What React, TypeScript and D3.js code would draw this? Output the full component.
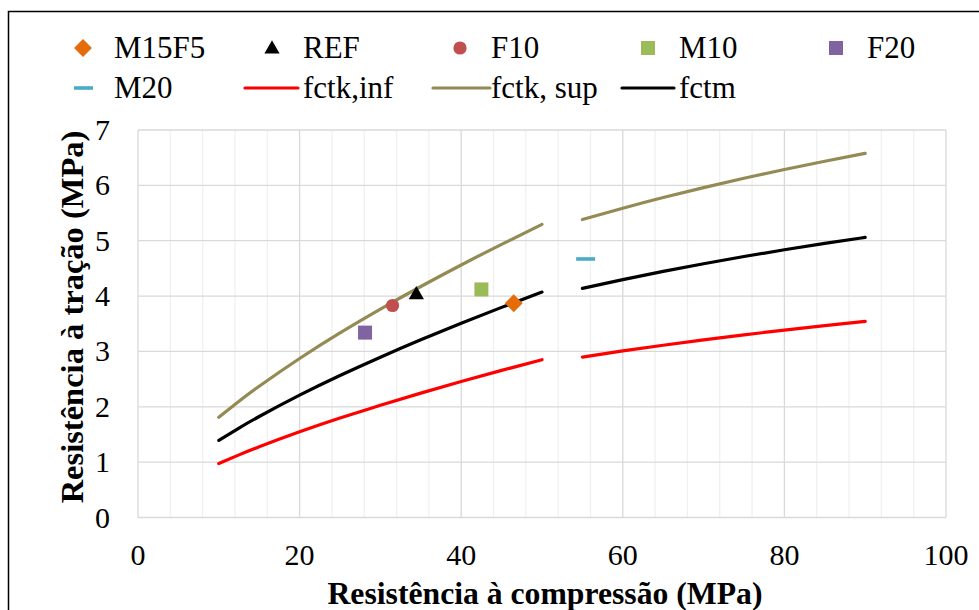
import React from "react";
import * as d3 from "d3";

const xTicks = [0, 20, 40, 60, 80, 100];
const yTicks = [0, 1, 2, 3, 4, 5, 6, 7];

const xLow = [10, 12.5, 15, 20, 25, 30, 35, 40, 45, 50];
const fctmLow = [1.392, 1.616, 1.825, 2.21, 2.565, 2.896, 3.21, 3.509, 3.796, 4.072];
const infLow = [0.974, 1.131, 1.277, 1.547, 1.796, 2.027, 2.247, 2.456, 2.657, 2.85];
const supLow = [1.81, 2.1, 2.372, 2.873, 3.335, 3.765, 4.173, 4.562, 4.935, 5.294];

const xHigh = [55, 60, 65, 70, 75, 80, 85, 90];
const fctmHigh = [4.14, 4.298, 4.446, 4.584, 4.714, 4.836, 4.951, 5.06];
const infHigh = [2.898, 3.009, 3.112, 3.209, 3.3, 3.385, 3.466, 3.542];
const supHigh = [5.382, 5.587, 5.78, 5.959, 6.128, 6.287, 6.436, 6.578];

const pointNames = ["M15F5", "REF", "F10", "M10", "F20", "M20"];
const pointX = [46.5, 34.45, 31.5, 42.5, 28.1, 55.4];
const pointY = [3.87, 4.04, 3.83, 4.12, 3.34, 4.67];

const lineNames = ["fctk,inf", "fctk, sup", "fctm"];

const COLORS: Record<string, string> = {
  M15F5: "#E46C0A",
  REF: "#000000",
  F10: "#C0504D",
  M10: "#9BBB59",
  F20: "#8064A2",
  M20: "#4BACC6",
  "fctk,inf": "#FF0000",
  "fctk, sup": "#948A54",
  fctm: "#000000",
};

const FONT = "'Liberation Serif', Tinos, 'Times New Roman', Times, 'DejaVu Serif', serif";
const TS: React.CSSProperties = { fontFamily: FONT };

function Marker({ name, cx, cy }: { name: string; cx: number; cy: number }) {
  const c = COLORS[name];
  if (name === "M15F5") {
    const p = d3.symbol(d3.symbolSquare, 160)()!;
    return <path d={p} transform={`translate(${cx},${cy}) rotate(45)`} fill={c} />;
  }
  if (name === "REF") {
    const p = d3.symbol(d3.symbolTriangle, 100)()!;
    return <path d={p} transform={`translate(${cx},${cy + 1})`} fill={c} />;
  }
  if (name === "F10") {
    return <circle cx={cx} cy={cy} r={6.6} fill={c} />;
  }
  if (name === "M10" || name === "F20") {
    return <rect x={cx - 7} y={cy - 7} width={14} height={14} fill={c} />;
  }
  return <rect x={cx - 9.5} y={cy - 1.8} width={19} height={3.6} fill={c} />;
}

export default function App() {
  const x = d3.scaleLinear().domain([0, 100]).range([138, 946]);
  const y = d3.scaleLinear().domain([0, 7]).range([517.5, 130]);

  const line = d3
    .line<[number, number]>()
    .x((d) => x(d[0]))
    .y((d) => y(d[1]))
    .curve(d3.curveNatural);

  const zip = (xs: number[], ys: number[]) => xs.map((v, i) => [v, ys[i]] as [number, number]);

  const curves = [
    { name: "fctk,inf", segs: [zip(xLow, infLow), zip(xHigh, infHigh)] },
    { name: "fctk, sup", segs: [zip(xLow, supLow), zip(xHigh, supHigh)] },
    { name: "fctm", segs: [zip(xLow, fctmLow), zip(xHigh, fctmHigh)] },
  ];

  const minorX = d3.range(0, 101, 4).filter((v) => v % 20 !== 0);

  const legendRow1 = [
    { name: "M15F5", mx: 83, tx: 114 },
    { name: "REF", mx: 272, tx: 303 },
    { name: "F10", mx: 460, tx: 491 },
    { name: "M10", mx: 648, tx: 679 },
    { name: "F20", mx: 836, tx: 867 },
  ];
  const legendLines = [
    { name: lineNames[0], x1: 245, x2: 298, tx: 303 },
    { name: lineNames[1], x1: 433, x2: 490, tx: 491 },
    { name: lineNames[2], x1: 622, x2: 674, tx: 679 },
  ];

  return (
    <svg
      width={979}
      height={610}
      style={{ position: "absolute", left: 0, top: 0, background: "#fff", fontFamily: FONT }}
    >
      <rect x={0} y={0} width={979} height={610} fill="#fff" />
      {minorX.map((v) => (
        <line key={"mx" + v} x1={x(v)} x2={x(v)} y1={y(7)} y2={y(0)} stroke="#f0f0f0" strokeWidth={1.3} />
      ))}
      {xTicks.map((v) => (
        <line key={"vx" + v} x1={x(v)} x2={x(v)} y1={y(7)} y2={y(0)} stroke="#d9d9d9" strokeWidth={1.3} />
      ))}
      {yTicks.map((v) => (
        <line key={"hy" + v} x1={x(0)} x2={x(100)} y1={y(v)} y2={y(v)} stroke="#d9d9d9" strokeWidth={1.3} />
      ))}

      {curves.map((c) =>
        c.segs.map((s, i) => (
          <path
            key={c.name + i}
            d={line(s)!}
            fill="none"
            stroke={COLORS[c.name]}
            strokeWidth={3.2}
            strokeLinecap="round"
          />
        ))
      )}

      {pointNames.map((n, i) => (
        <Marker key={n} name={n} cx={x(pointX[i])} cy={y(pointY[i])} />
      ))}

      {yTicks.map((v) => (
        <text key={"yt" + v} style={TS} x={110} y={y(v) + 10} fontSize={30} textAnchor="end" fill="#000">
          {v}
        </text>
      ))}
      {xTicks.map((v) => (
        <text key={"xt" + v} style={TS} x={x(v)} y={565} fontSize={30} textAnchor="middle" fill="#000">
          {v}
        </text>
      ))}

      <text style={TS} x={545} y={604} fontSize={31.7} fontWeight="bold" textAnchor="middle" fill="#000">
        Resistência à compressão (MPa)
      </text>
      <text
        style={TS}
        transform={`translate(83,317) rotate(-90)`}
        fontSize={32.5}
        fontWeight="bold"
        textAnchor="middle"
        fill="#000"
      >
        Resistência à tração (MPa)
      </text>

      {legendRow1.map((l) => (
        <g key={"lg" + l.name}>
          <Marker name={l.name} cx={l.mx} cy={48} />
          <text style={TS} x={l.tx} y={58} fontSize={31} fill="#000">
            {l.name}
          </text>
        </g>
      ))}
      <Marker name="M20" cx={83.5} cy={88} />
      <text style={TS} x={114} y={98} fontSize={31} fill="#000">
        M20
      </text>
      {legendLines.map((l) => (
        <g key={"ll" + l.name}>
          <line x1={l.x1} x2={l.x2} y1={88} y2={88} stroke={COLORS[l.name]} strokeWidth={3.2} strokeLinecap="round" />
          <text style={TS} x={l.tx} y={98} fontSize={31} fill="#000">
            {l.name}
          </text>
        </g>
      ))}

      <rect x={8.5} y={11.5} width={1100} height={1100} fill="none" stroke="#000" strokeWidth={1.5} />
    </svg>
  );
}
